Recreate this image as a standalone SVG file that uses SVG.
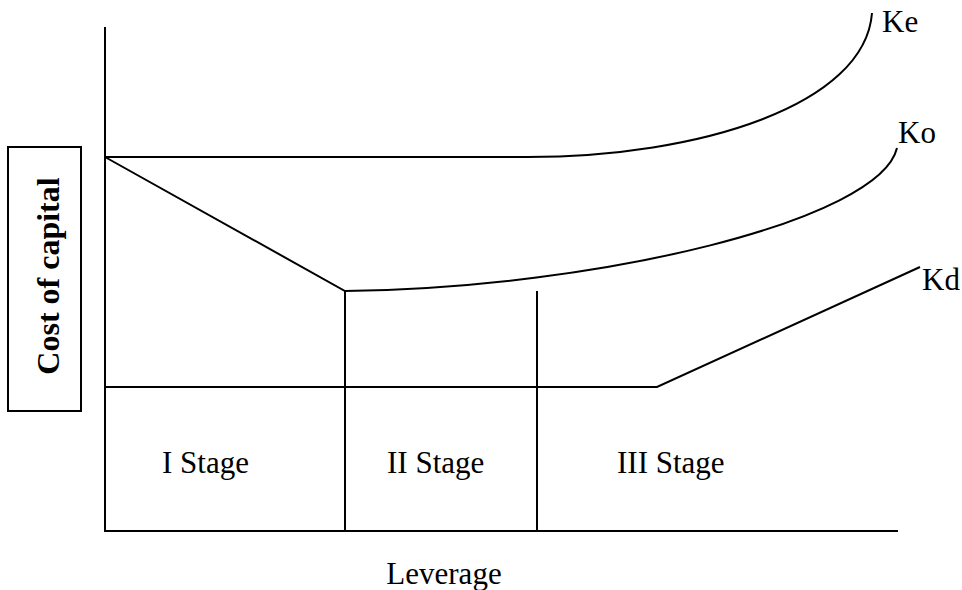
<svg xmlns="http://www.w3.org/2000/svg" width="962" height="590" viewBox="0 0 962 590">
<style>
.ln{fill:none;stroke:#000;stroke-width:2}
.t{font-family:"Liberation Serif","Times New Roman",serif;font-size:31px;fill:#000}
.b{font-family:"Liberation Serif","Times New Roman",serif;font-size:32px;font-weight:bold;fill:#000}
</style>
<rect width="962" height="590" fill="#fff"/>
<g id="connectors">
<path class="ln" d="M105,27 V531 H898"/>
<path class="ln" d="M105,157 H527 C700,157 865,105 872,13"/>
<path class="ln" d="M105,157 L345,291 C600,288 880,220 897,148"/>
<path class="ln" d="M105,387 H657 L920,267"/>
<path class="ln" d="M345,291 V531"/>
<path class="ln" d="M537,291 V531"/>
</g>
<g id="ylabel">
<rect x="8" y="147" width="73" height="264" fill="none" stroke="#000" stroke-width="2"/>
<text class="b" transform="translate(59,276) rotate(-90)" text-anchor="middle">Cost of capital</text>
</g>
<g id="xlabel"><text class="t" x="444" y="584" text-anchor="middle">Leverage</text></g>
<g id="ke"><text class="t" x="882" y="32">Ke</text></g>
<g id="ko"><text class="t" x="898" y="143">Ko</text></g>
<g id="kd"><text class="t" x="922" y="290">Kd</text></g>
<g id="stage1"><text class="t" x="162" y="473">I Stage</text></g>
<g id="stage2"><text class="t" x="387" y="473">II Stage</text></g>
<g id="stage3"><text class="t" x="617" y="473">III Stage</text></g>
</svg>
